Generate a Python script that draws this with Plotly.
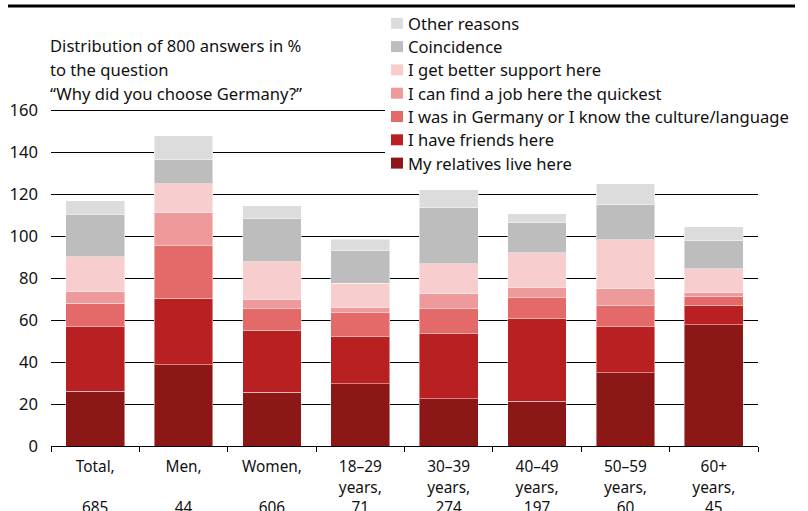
import plotly.graph_objects as go

categories = ["Total,<br> <br>685", "Men,<br> <br>44", "Women,<br> <br>606",
              "18–29<br>years,<br>71", "30–39<br>years,<br>274", "40–49<br>years,<br>197",
              "50–59<br>years,<br>60", "60+<br>years,<br>45"]

relatives = [26.0, 38.6, 25.5, 29.6, 22.6, 21.2, 35.0, 57.8]
friends = [30.9, 31.8, 29.7, 22.5, 30.9, 39.4, 21.7, 8.9]
germany = [11.0, 25.0, 10.2, 11.3, 11.9, 10.0, 10.0, 4.4]
job = [5.5, 15.9, 4.6, 2.8, 7.2, 5.1, 8.3, 2.2]
support = [16.8, 13.6, 17.7, 11.3, 14.3, 16.3, 23.3, 11.1]
coincidence = [20.2, 11.4, 20.5, 15.5, 26.5, 14.3, 16.7, 13.3]
other = [6.5, 11.4, 6.2, 5.6, 8.6, 4.4, 10.0, 6.7]

series_names = ["My relatives live here", "I have friends here",
                "I was in Germany or I know the culture/language",
                "I can find a job here the quickest", "I get better support here",
                "Coincidence", "Other reasons"]
series_values = [relatives, friends, germany, job, support, coincidence, other]
colors = ["#8B1717", "#B92022", "#E46A6A", "#EF9A9A", "#F7CDCD", "#BDBDBD", "#DCDCDC"]

subtitle_lines = ["Distribution of 800 answers in %", "to the question",
                  "“Why did you choose Germany?”"]

FONT = "Noto Sans"
FS = 16.6
W, H = 808, 511
L, R, T, B = 51, 50, 108, 65
PW, PH = W - L - R, H - T - B


def px_x(px):
    return (px - L) / PW


def px_y(py):
    return (H - B - py) / PH


fig = go.Figure()
for name, vals, col in zip(series_names, series_values, colors):
    fig.add_trace(go.Bar(x=categories, y=vals, name=name, marker_color=col,
                         marker_line=dict(color="rgba(255,255,255,0.45)", width=1),
                         width=0.665, hoverinfo="y+name", showlegend=False))

annotations = []
shapes = []

# subtitle (three lines)
for i, line in enumerate(subtitle_lines):
    annotations.append(dict(xref="paper", yref="paper", x=px_x(48), y=px_y(46 + i * 23.5),
                            xanchor="left", yanchor="middle", showarrow=False, text=line,
                            font=dict(size=FS, family=FONT, color="#111")))

# white backdrop behind legend (covers gridlines like the reference legend box)
shapes.append(dict(type="rect", xref="paper", yref="paper", x0=px_x(385), x1=px_x(808),
                   y0=px_y(176), y1=px_y(9), fillcolor="white", line=dict(width=0),
                   layer="above"))

# legend, top entry = last series
for i, (name, col) in enumerate(zip(series_names[::-1], colors[::-1])):
    cy = 23.3 + i * 23.3
    shapes.append(dict(type="rect", xref="paper", yref="paper", x0=px_x(391), x1=px_x(403),
                       y0=px_y(cy + 5.5), y1=px_y(cy - 5.5), fillcolor=col,
                       line=dict(width=0), layer="above"))
    annotations.append(dict(xref="paper", yref="paper", x=px_x(406), y=px_y(cy),
                            xanchor="left", yanchor="middle", showarrow=False, text=name,
                            font=dict(size=FS, family=FONT, color="#111")))

# heavy rule at top
shapes.append(dict(type="line", xref="paper", yref="paper", x0=px_x(8), x1=px_x(795),
                   y0=px_y(6), y1=px_y(6), line=dict(color="black", width=3)))

fig.update_layout(
    width=W, height=H, barmode="stack",
    paper_bgcolor="white", plot_bgcolor="white",
    margin=dict(l=L, r=R, t=T, b=B, autoexpand=False),
    font=dict(family=FONT, size=FS, color="#111"),
    showlegend=False,
    xaxis=dict(showline=True, linecolor="black", linewidth=1, ticks="outside",
               tickson="boundaries", ticklen=5, tickcolor="black", showgrid=False,
               tickfont=dict(size=15.4), automargin=False, ticklabelstandoff=7,
               fixedrange=True),
    yaxis=dict(range=[0, 161], dtick=20, showgrid=True, gridcolor="black", gridwidth=1,
               zeroline=False, showline=False, ticks="", tickfont=dict(size=FS),
               ticklabelstandoff=12, automargin=False, fixedrange=True),
    annotations=annotations,
    shapes=shapes,
)

fig.write_html("out.html", config={"displayModeBar": False},
               post_script="document.body.style.margin='0';document.body.style.overflow='hidden';")
